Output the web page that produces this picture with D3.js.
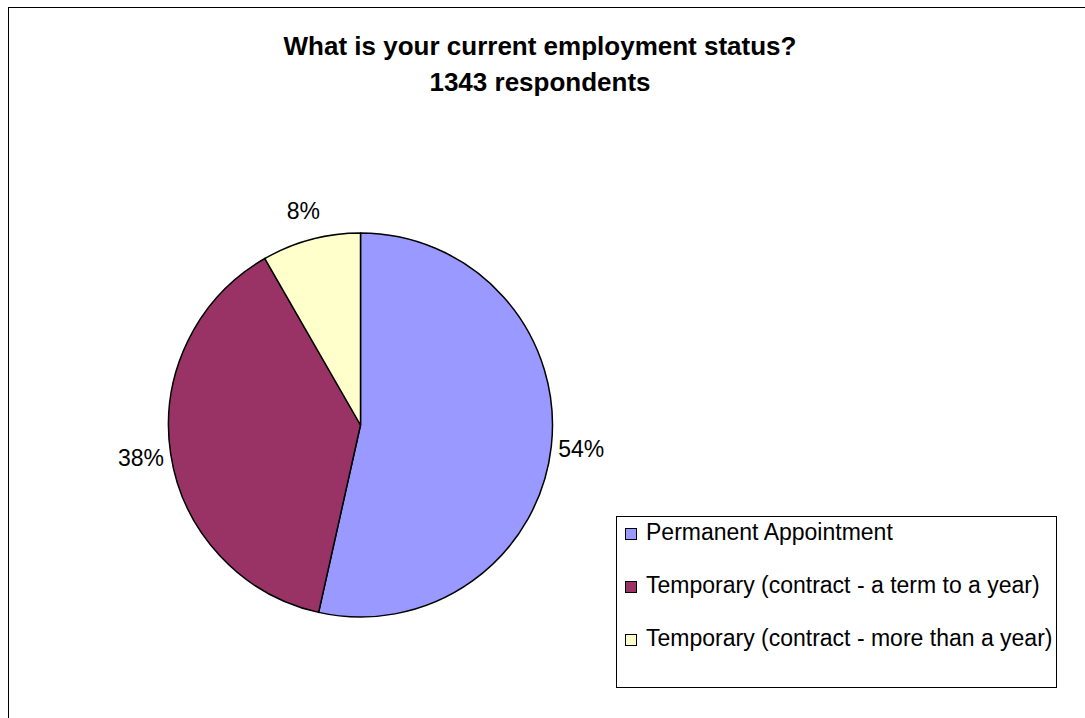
<!DOCTYPE html>
<html><head><meta charset="utf-8">
<script src="https://cdn.jsdelivr.net/npm/d3@7"></script>
<style>html,body{margin:0;padding:0;background:#fff;}svg{display:block;}</style>
</head><body>
<svg id="chart" width="1085" height="718"></svg>
<script>
const categories = ["Permanent Appointment", "Temporary (contract - a term to a year)", "Temporary (contract - more than a year)"];
const values = [53.5, 38.2, 8.3];
const colors = ["#9999FF", "#993366", "#FFFFCC"];
const titleLines = ["What is your current employment status?", "1343 respondents"];

const svg = d3.select("#chart");
const font = "'Liberation Sans', Arial, sans-serif";

// outer frame
svg.append("rect").attr("x", 8.5).attr("y", 7.5).attr("width", 1100).attr("height", 730)
  .attr("fill", "#fff").attr("stroke", "#000").attr("stroke-width", 1);

// title
svg.append("g").selectAll("text").data(titleLines).join("text")
  .attr("x", 540).attr("y", (d, i) => 55 + i * 36)
  .attr("text-anchor", "middle").attr("font-family", font)
  .attr("font-weight", "bold").attr("font-size", 26).text(d => d);

// pie
const cx = 360.5, cy = 425, r = 192;
const total = d3.sum(values);
const pie = d3.pie().sort(null).value(d => d);
const arcs = pie(values);
const arc = d3.arc().innerRadius(0).outerRadius(r);
const g = svg.append("g").attr("transform", `translate(${cx},${cy})`);
g.selectAll("path").data(arcs).join("path")
  .attr("d", arc).attr("fill", (d, i) => colors[i])
  .attr("stroke", "#000").attr("stroke-width", 1.5).attr("stroke-linejoin", "round");

// labels
const labelArc = d3.arc().innerRadius(r + 30).outerRadius(r + 30);
g.selectAll("text").data(arcs).join("text")
  .attr("transform", d => {
    const [x, y] = labelArc.centroid(d);
    return `translate(${x},${y})`;
  })
  .attr("dy", "0.35em")
  .attr("text-anchor", "middle")
  .attr("font-family", font).attr("font-size", 23)
  .text(d => Math.round(d.data / total * 100) + "%");

// legend
const lg = svg.append("g");
lg.append("rect").attr("x", 616.5).attr("y", 516.5).attr("width", 440).attr("height", 171)
  .attr("fill", "#fff").attr("stroke", "#000").attr("stroke-width", 1);
const items = lg.selectAll("g.item").data(categories).join("g").attr("class", "item")
  .attr("transform", (d, i) => `translate(0,${540 + i * 53})`);
items.append("rect").attr("x", 625.5).attr("y", -11.5).attr("width", 11).attr("height", 11)
  .attr("fill", (d, i) => colors[i]).attr("stroke", "#000").attr("stroke-width", 1);
items.append("text").attr("x", 646).attr("y", 0)
  .attr("font-family", font).attr("font-size", 23).text(d => d);
</script>
</body></html>
